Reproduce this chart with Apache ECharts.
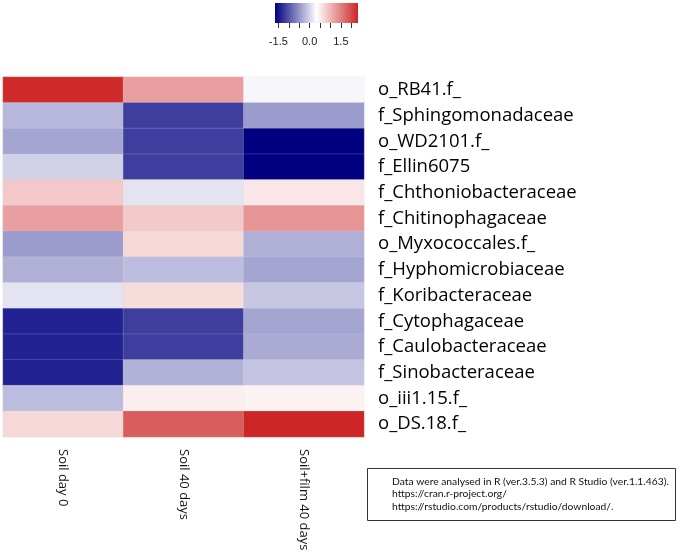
<!DOCTYPE html>
<html>
<head>
<meta charset="utf-8">
<script src="https://cdn.jsdelivr.net/npm/echarts@6/dist/echarts.min.js"></script>
<style>
html,body{margin:0;padding:0;background:#fff;}
#chart{width:685px;height:552px;}
</style>
</head>
<body>
<div id="chart"></div>
<script>
// ---- data ----
const samples = ['Soil day 0', 'Soil 40 days', 'Soil+film 40 days'];
const taxa = ['o_RB41.f_', 'f_Sphingomonadaceae', 'o_WD2101.f_', 'f_Ellin6075',
  'f_Chthoniobacteraceae', 'f_Chitinophagaceae', 'o_Myxococcales.f_', 'f_Hyphomicrobiaceae',
  'f_Koribacteraceae', 'f_Cytophagaceae', 'f_Caulobacteraceae', 'f_Sinobacteraceae',
  'o_iii1.15.f_', 'o_DS.18.f_'];
const soilDay0    = [2.28, -0.23, -0.37, -0.03, 0.83, 1.21, -0.45, -0.29, 0.11, -1.40, -1.40, -1.40, -0.19, 0.69];
const soil40      = [1.21, -1.18, -1.18, -1.18, 0.11, 0.83, 0.69, -0.19, 0.65, -1.18, -1.18, -0.27, 0.49, 1.82];
const soilFilm40  = [0.27, -0.45, -1.66, -1.66, 0.56, 1.31, -0.29, -0.37, -0.11, -0.37, -0.33, -0.13, 0.45, 2.32];
const scaleMin = -1.66, scaleMax = 2.32;
const keyTicks = [-1.5, -1, -0.5, 0, 0.5, 1, 1.5, 2];
const keyLabels = [-1.5, 0, 1.5];
const noteLines = ['Data were analysed in R (ver.3.5.3) and R Studio (ver.1.1.463).',
  'https://cran.r-project.org/',
  'https://rstudio.com/products/rstudio/download/.'];

const cols = [soilDay0, soil40, soilFilm40];
const cells = [];
cols.forEach((arr, ci) => arr.forEach((v, ri) => cells.push([ci, ri, v])));

const palette = ['#000080', '#ffffff', '#CD2626'];
const FONT = 'Open Sans';

const chart = echarts.init(document.getElementById('chart'), null, {renderer: 'canvas'});
chart.setOption({
  backgroundColor: '#ffffff',
  animation: false,
  textStyle: {fontFamily: FONT},
  grid: [
    {left: 3, top: 77, width: 361, height: 360, outerBoundsMode: 'none', containLabel: false},
    {left: 275, top: 3, width: 83, height: 20, outerBoundsMode: 'none', containLabel: false}
  ],
  xAxis: [
    {type: 'category', data: samples, gridIndex: 0, position: 'bottom',
     axisLine: {show: false}, axisTick: {show: false}, splitLine: {show: false},
     axisLabel: {rotate: -90, margin: 12, fontSize: 13, color: '#111', fontFamily: FONT}},
    {type: 'value', gridIndex: 1, min: scaleMin, max: scaleMax, position: 'bottom',
     splitLine: {show: false}, axisLine: {show: false},
     axisTick: {show: true, length: 5, customValues: keyTicks, lineStyle: {color: '#333'}},
     axisLabel: {customValues: keyLabels, margin: 13, fontSize: 11, color: '#222',
       formatter: v => v.toFixed(1), fontFamily: 'Liberation Sans'}}
  ],
  yAxis: [
    {type: 'category', data: taxa, gridIndex: 0, position: 'right', inverse: true,
     axisLine: {show: false}, axisTick: {show: false}, splitLine: {show: false},
     axisLabel: {margin: 14, fontSize: 18.5, color: '#000', fontFamily: FONT}},
    {type: 'value', gridIndex: 1, min: 0, max: 1, show: false}
  ],
  visualMap: {
    show: false, seriesIndex: 0, dimension: 2,
    min: scaleMin, max: scaleMax,
    inRange: {color: palette}
  },
  series: [
    {type: 'heatmap', xAxisIndex: 0, yAxisIndex: 0, data: cells,
     itemStyle: {borderColor: 'rgba(220,220,220,0.4)', borderWidth: 0.5},
     emphasis: {disabled: true}},
    {type: 'custom', xAxisIndex: 1, yAxisIndex: 1, data: [[scaleMin, scaleMax]],
     renderItem: function (params, api) {
       const p0 = api.coord([api.value(0), 1]);
       const p1 = api.coord([api.value(1), 0]);
       return {type: 'rect',
         shape: {x: p0[0], y: p0[1], width: p1[0] - p0[0], height: p1[1] - p0[1]},
         style: {fill: new echarts.graphic.LinearGradient(0, 0, 1, 0, [
           {offset: 0, color: palette[0]}, {offset: 0.5, color: palette[1]}, {offset: 1, color: palette[2]}])}};
     }}
  ],
  graphic: [
    {type: 'rect', left: 367, top: 468, shape: {width: 308, height: 52},
     style: {fill: '#fff', stroke: '#333', lineWidth: 1}},
    {type: 'text', left: 392, top: 475,
     style: {text: noteLines.join('\n'), fontSize: 10.3, lineHeight: 12.5, fill: '#111', fontFamily: 'Lato'}}
  ]
});
</script>
</body>
</html>
